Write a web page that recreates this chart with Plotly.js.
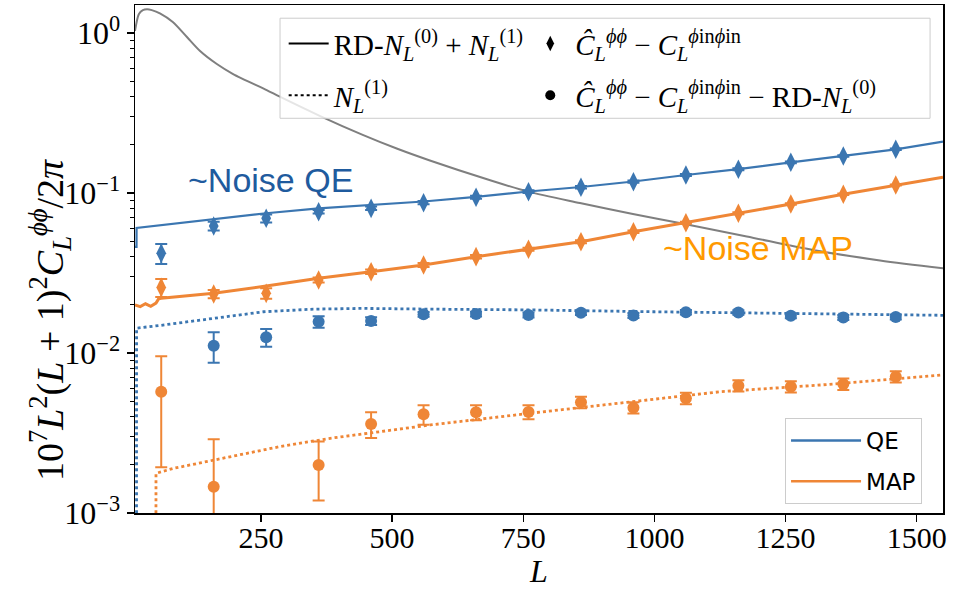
<!DOCTYPE html>
<html><head><meta charset="utf-8">
<script src="https://cdn.plot.ly/plotly-3.0.1.min.js"></script>
<style>html,body{margin:0;padding:0;background:#fff;} #chart{width:960px;height:590px;}</style>
</head><body><div id="chart"></div>
<script>
// ---- data ----
const binL = [60,160,260,360,460,560,660,760,860,960,1060,1160,1260,1360,1460];
const qeDiamond    = [0.0420,0.0622,0.0695,0.0764,0.0802,0.0870,0.0940,0.1019,0.1086,0.1177,0.1296,0.1406,0.1555,0.1702,0.1875];
const qeDiamondErr = [0.006,0.004,0.004,0.002,0.002,0.002,0.002,0.002,0.002,0.002,0.002,0.002,0.002,0.002,0.002];
const mapDiamond    = [0.0257,0.0234,0.0236,0.0286,0.0322,0.0355,0.0400,0.0445,0.0496,0.0573,0.0652,0.0747,0.0853,0.0983,0.1122];
const mapDiamondErr = [0.0033,0.0014,0.0018,0.001,0.001,0.001,0.001,0.001,0.001,0.001,0.001,0.001,0.001,0.001,0.001];
const qeCircle    = [null,0.0111,0.01253,0.01569,0.01585,0.01746,0.01751,0.01728,0.01786,0.01716,0.01799,0.01792,0.01711,0.01667,0.01679];
const qeCircleErr = [null,0.0024,0.0016,0.0013,0.0009,0.0006,0.0006,0.0006,0.0006,0.0006,0.0006,0.0006,0.0006,0.0006,0.0006];
const mapCircle    = [0.00573,0.00146,null,0.001995,0.0036,0.00414,0.00426,0.00428,0.00492,0.00455,0.00521,0.00625,0.00616,0.0064,0.00711];
const mapCircleErr = [0.0038,0.00143,null,0.0008,0.00066,0.00058,0.00046,0.00043,0.0004,0.00037,0.00043,0.00051,0.0005,0.00052,0.00058];

const theoryL   = [10,17.5,25,33,42,57.5,82,109,134,166,197,261,286,362,444,510,572,681,759,858,959,1048,1176,1302,1430,1550];
const theoryVal = [1.03,1.315,1.39,1.406,1.39,1.328,1.172,0.944,0.772,0.640,0.554,0.44,0.40,0.3037,0.2308,0.1889,0.1596,0.1218,0.1020,0.0866,0.0739,0.0649,0.0535,0.0440,0.0379,0.0338];

const qeTotL = [10,12.9,13,60,110,160,260,360,460,560,660,760,860,960,1060,1160,1260,1360,1460,1550];
const qeTot  = [0.046,0.046,0.0604,0.0628,0.0655,0.0688,0.0747,0.0802,0.0841,0.0885,0.0945,0.1022,0.109,0.118,0.1296,0.141,0.1555,0.1702,0.1875,0.2092];

const mapTotL = [10,20,30,40,50,55,60,110,160,260,360,460,560,660,760,860,960,1060,1160,1260,1360,1460,1550];
const mapTot  = [0.0200,0.0195,0.0203,0.0196,0.0205,0.0218,0.0220,0.0228,0.0236,0.0262,0.0293,0.0322,0.0355,0.0400,0.0445,0.0496,0.0573,0.0652,0.0747,0.0853,0.0983,0.1122,0.1254];

const qeN1L = [12.9,13,60,160,255,350,445,570,760,1000,1250,1550];
const qeN1  = [0.0005,0.0143,0.0149,0.0165,0.0181,0.0188,0.0190,0.0188,0.0186,0.0181,0.0176,0.0172];

const mapN1L = [49.9,50,83,191,286,382,477,573,763,935,1126,1317,1550];
const mapN1  = [0.0005,0.00177,0.0019,0.00225,0.0026,0.00293,0.00322,0.00355,0.0042,0.00489,0.00573,0.00631,0.00729];

const yTickVals = [0.001,0.01,0.1,1];
const yTickText = ['10<sup>−3</sup>','10<sup>−2</sup>','10<sup>−1</sup>','10<sup>0</sup>'];
const xTickVals = [250,500,750,1000,1250,1500];

// ---- styling ----
const BLUE = '#3b76b1', ORANGE = '#ef8636', GRAY = '#7f7f7f';
const SERIF = 'Liberation Serif';
const minorVals = [];
[0.001,0.01,0.1].forEach(d => { for (let k=2;k<=9;k++) minorVals.push(d*k); });

function errs(arr, col){ return {type:'data', array:arr, visible:true, color:col, thickness:2, width:6}; }

const traces = [
  {x:theoryL, y:theoryVal, mode:'lines', line:{color:GRAY, width:2, shape:'spline', smoothing:0.8}, showlegend:false, hoverinfo:'skip'},
  {x:qeTotL, y:qeTot, mode:'lines', line:{color:BLUE, width:2.2}, showlegend:false},
  {x:mapTotL, y:mapTot, mode:'lines', line:{color:ORANGE, width:3}, showlegend:false},
  {x:qeN1L, y:qeN1, mode:'lines', line:{color:BLUE, width:2.8, dash:'dot'}, showlegend:false},
  {x:mapN1L, y:mapN1, mode:'lines', line:{color:ORANGE, width:2.8, dash:'dot'}, showlegend:false},
  {x:binL, y:qeDiamond, mode:'markers', marker:{symbol:'diamond-tall', size:14, color:BLUE}, error_y:errs(qeDiamondErr,BLUE), showlegend:false},
  {x:binL, y:mapDiamond, mode:'markers', marker:{symbol:'diamond-tall', size:14, color:ORANGE}, error_y:errs(mapDiamondErr,ORANGE), showlegend:false},
  {x:binL, y:qeCircle, mode:'markers', marker:{symbol:'circle', size:12, color:BLUE}, error_y:errs(qeCircleErr,BLUE), showlegend:false},
  {x:binL, y:mapCircle, mode:'markers', marker:{symbol:'circle', size:12, color:ORANGE}, error_y:errs(mapCircleErr,ORANGE), showlegend:false},
  // legend entries
  {x:[null], y:[null], mode:'lines', line:{color:'#000', width:2}, name:'RD-<i>N</i><sub><i>L</i></sub><sup>(0)</sup> + <i>N</i><sub><i>L</i></sub><sup>(1)</sup>', legend:'legend', legendgroup:'a'},
  {x:[null], y:[null], mode:'lines', line:{color:'#000', width:2, dash:'dot'}, name:'<i>N</i><sub><i>L</i></sub><sup>(1)</sup>', legend:'legend', legendgroup:'b'},
  {x:[null], y:[null], mode:'markers', marker:{symbol:'diamond-tall', size:11, color:'#000'}, name:'<i>Ĉ</i><sub><i>L</i></sub><sup><i>ϕϕ</i></sup> − <i>C</i><sub><i>L</i></sub><sup><i>ϕ</i>in<i>ϕ</i>in</sup>', legend:'legend3', legendgroup:'c'},
  {x:[null], y:[null], mode:'markers', marker:{symbol:'circle', size:10, color:'#000'}, name:'<i>Ĉ</i><sub><i>L</i></sub><sup><i>ϕϕ</i></sup> − <i>C</i><sub><i>L</i></sub><sup><i>ϕ</i>in<i>ϕ</i>in</sup> − RD-<i>N</i><sub><i>L</i></sub><sup>(0)</sup>', legend:'legend3', legendgroup:'d'},
  {x:[null], y:[null], mode:'lines', line:{color:BLUE, width:2.5}, name:'QE', legend:'legend2', legendgroup:'e'},
  {x:[null], y:[null], mode:'lines', line:{color:ORANGE, width:2.5}, name:'MAP', legend:'legend2', legendgroup:'f'}
];

const axisCommon = {ticks:'outside', ticklen:7, tickwidth:1.3, tickcolor:'#000', showline:true, linecolor:'#000', linewidth:1.5, mirror:true, showgrid:false, zeroline:false};

const layout = {
  width:960, height:590,
  margin:{l:135, r:17, t:5, b:77},
  paper_bgcolor:'#fff', plot_bgcolor:'#fff',
  showlegend:true,
  xaxis:Object.assign({}, axisCommon, {range:[10,1550], tickmode:'array', tickvals:xTickVals,
    tickfont:{family:SERIF, size:30, color:'#000'}, ticklabelstandoff:-10,
    title:{text:'<i>L</i>', font:{family:SERIF, size:32, color:'#000'}, standoff:4}}),
  yaxis:Object.assign({}, axisCommon, {type:'log', range:[-3,0.175], tickmode:'array', tickvals:yTickVals, ticktext:yTickText,
    tickfont:{family:SERIF, size:32, color:'#000'},
    minor:{tickmode:'array', tickvals:minorVals, ticks:'outside', ticklen:4, tickwidth:1, tickcolor:'#000', showgrid:false}}),
  legend:{x:0.184, y:0.974, xanchor:'left', yanchor:'top', bgcolor:'rgba(0,0,0,0)', borderwidth:0, itemwidth:40,
    font:{family:SERIF, size:29, color:'#000'}, tracegroupgap:11},
  legend3:{x:0.483, y:0.974, xanchor:'left', yanchor:'top', bgcolor:'rgba(0,0,0,0)', borderwidth:0, itemwidth:40,
    font:{family:SERIF, size:29, color:'#000'}, tracegroupgap:11},
  legend2:{x:0.8045, y:0.187, xanchor:'left', yanchor:'top', bgcolor:'rgba(255,255,255,0.85)', bordercolor:'#cccccc', borderwidth:1, itemwidth:70,
    font:{family:'DejaVu Sans', size:23, color:'#000'}, tracegroupgap:8},
  shapes:[{type:'rect', xref:'paper', yref:'paper', x0:0.1795, x1:0.984, y0:0.777, y1:0.974,
    line:{color:'#cccccc', width:1}, fillcolor:'rgba(255,255,255,0.8)', layer:'above'}],
  annotations:[
    {text:'10<sup>7</sup><i>L</i><sup>2</sup>(<i>L</i> + 1)<sup>2</sup><i>C</i><sub><i>L</i></sub><sup><i>ϕϕ</i></sup>/2<i>π</i>',
     xref:'paper', yref:'paper', x:-0.105, y:0.38, xanchor:'center', yanchor:'middle', textangle:-90, showarrow:false,
     font:{family:SERIF, size:38, color:'#000'}},
    {text:'~Noise QE', xref:'paper', yref:'paper', x:0.168, y:0.655, xanchor:'center', yanchor:'middle', showarrow:false,
     font:{family:'Liberation Sans', size:34, color:'#1f5b9e'}},
    {text:'~Noise MAP', xref:'paper', yref:'paper', x:0.7705, y:0.5213, xanchor:'center', yanchor:'middle', showarrow:false,
     font:{family:'Liberation Sans', size:34, color:'#ff9900'}}
  ]
};

Plotly.newPlot('chart', traces, layout, {displayModeBar:false, staticPlot:true});
</script>
</body></html>
